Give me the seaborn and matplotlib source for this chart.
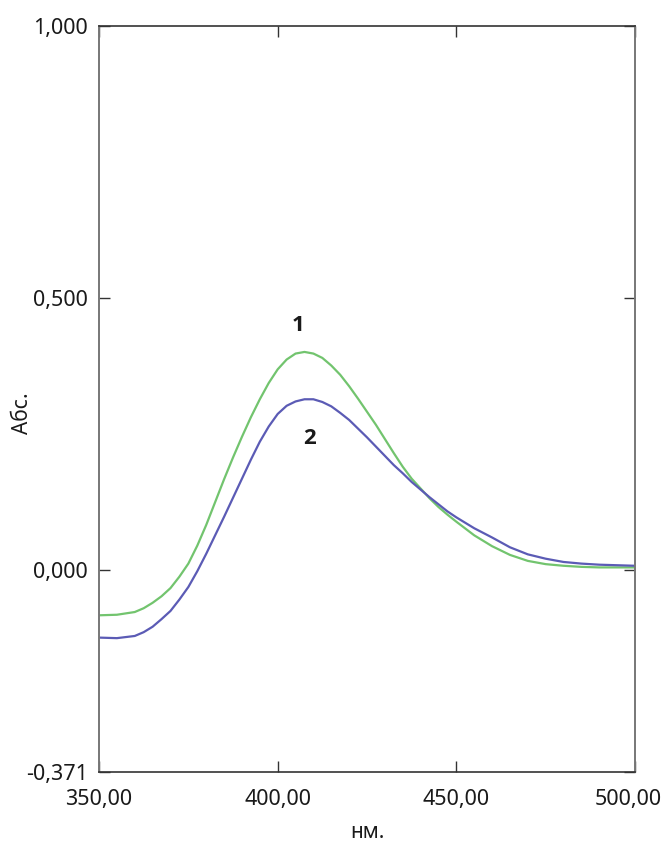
import matplotlib
matplotlib.use("Agg")
import matplotlib.pyplot as plt
import matplotlib.transforms as mtransforms
import seaborn as sns
import pandas as pd

wavelength = [350, 355, 360, 362.5, 365, 367.5, 370, 372.5, 375, 377.5, 380, 382.5,
              385, 387.5, 390, 392.5, 395, 397.5, 400, 402.5, 405, 407.5, 410, 412.5,
              415, 417.5, 420, 422.5, 425, 427.5, 430, 432.5, 435, 437.5, 440, 442.5,
              445, 447.5, 450, 455, 460, 465, 470, 475, 480, 485, 490, 495, 500]
curve1 = [-0.083, -0.082, -0.077, -0.070, -0.060, -0.048, -0.033, -0.012, 0.012, 0.045,
          0.083, 0.125, 0.167, 0.207, 0.245, 0.281, 0.314, 0.344, 0.369, 0.387,
          0.398, 0.401, 0.398, 0.390, 0.376, 0.359, 0.338, 0.315, 0.291, 0.267,
          0.241, 0.215, 0.190, 0.168, 0.150, 0.132, 0.116, 0.102, 0.089, 0.064,
          0.044, 0.028, 0.017, 0.011, 0.008, 0.006, 0.005, 0.005, 0.005]
curve2 = [-0.124, -0.125, -0.121, -0.114, -0.104, -0.090, -0.075, -0.054, -0.031, -0.002,
          0.030, 0.064, 0.098, 0.133, 0.168, 0.203, 0.236, 0.264, 0.287, 0.302,
          0.310, 0.314, 0.314, 0.309, 0.301, 0.289, 0.276, 0.260, 0.244, 0.227,
          0.210, 0.193, 0.178, 0.162, 0.148, 0.134, 0.121, 0.108, 0.097, 0.077,
          0.060, 0.042, 0.029, 0.021, 0.015, 0.012, 0.010, 0.009, 0.008]
series_names = ["1", "2"]
x_ticks = [350, 400, 450, 500]
x_tick_labels = ["350,00", "400,00", "450,00", "500,00"]
y_ticks = [-0.371, 0.0, 0.5, 1.0]
y_tick_labels = ["-0,371", "0,000", "0,500", "1,000"]
colors = {"1": "#72c46e", "2": "#5b5bb5"}

df = pd.concat([
    pd.DataFrame({"nm": wavelength, "abs": curve1, "s": series_names[0]}),
    pd.DataFrame({"nm": wavelength, "abs": curve2, "s": series_names[1]}),
])

sns.set_theme(style="ticks")
plt.rcParams["font.family"] = ["Noto Sans", "DejaVu Sans"]

fig = plt.figure(figsize=(6.65, 8.44), dpi=100)
ax = fig.add_axes([0.1489, 0.0853, 0.9549 - 0.1489, 0.9692 - 0.0853])
sns.lineplot(data=df, x="nm", y="abs", hue="s", palette=colors, ax=ax,
             legend=False, linewidth=1.6)

ax.set_xlim(350, 500)
ax.set_ylim(-0.371, 1.0)
ax.set_xticks(x_ticks)
ax.set_xticklabels(x_tick_labels)
ax.set_yticks(y_ticks)
ax.set_yticklabels(y_tick_labels)
ax.tick_params(direction="in", length=8, width=1, colors="#333333",
               labelcolor="#1a1a1a", labelsize=15.5, top=True, right=True)
ax.tick_params(axis="x", pad=12)
ax.tick_params(axis="y", pad=8)
for side in ["top", "bottom"]:
    ax.spines[side].set_color("#333333")
    ax.spines[side].set_linewidth(1.2)
for side in ["left", "right"]:
    ax.spines[side].set_color("#777777")
    ax.spines[side].set_linewidth(1.4)

# last x tick label sits flush with the figure edge, as in the reference
last = ax.get_xticklabels()[-1]
last.set_transform(last.get_transform() +
                   mtransforms.ScaledTranslation(-7 / 100, 0, fig.dpi_scale_trans))

ax.set_xlabel("нм.", fontsize=15, color="#1a1a1a", labelpad=9)
ax.set_ylabel("Абс.", fontsize=15, color="#1a1a1a")
ax.yaxis.set_label_coords(-0.123, 0.481)

ax.text(405.7, 0.450, "1", fontsize=16, fontweight="bold", ha="center", va="center",
        color="#1a1a1a", family=["Open Sans", "DejaVu Sans"])
ax.text(408.8, 0.242, "2", fontsize=16, fontweight="bold", ha="center", va="center",
        color="#1a1a1a", family=["Open Sans", "DejaVu Sans"])

fig.savefig("out.png", dpi=100, facecolor="white")
